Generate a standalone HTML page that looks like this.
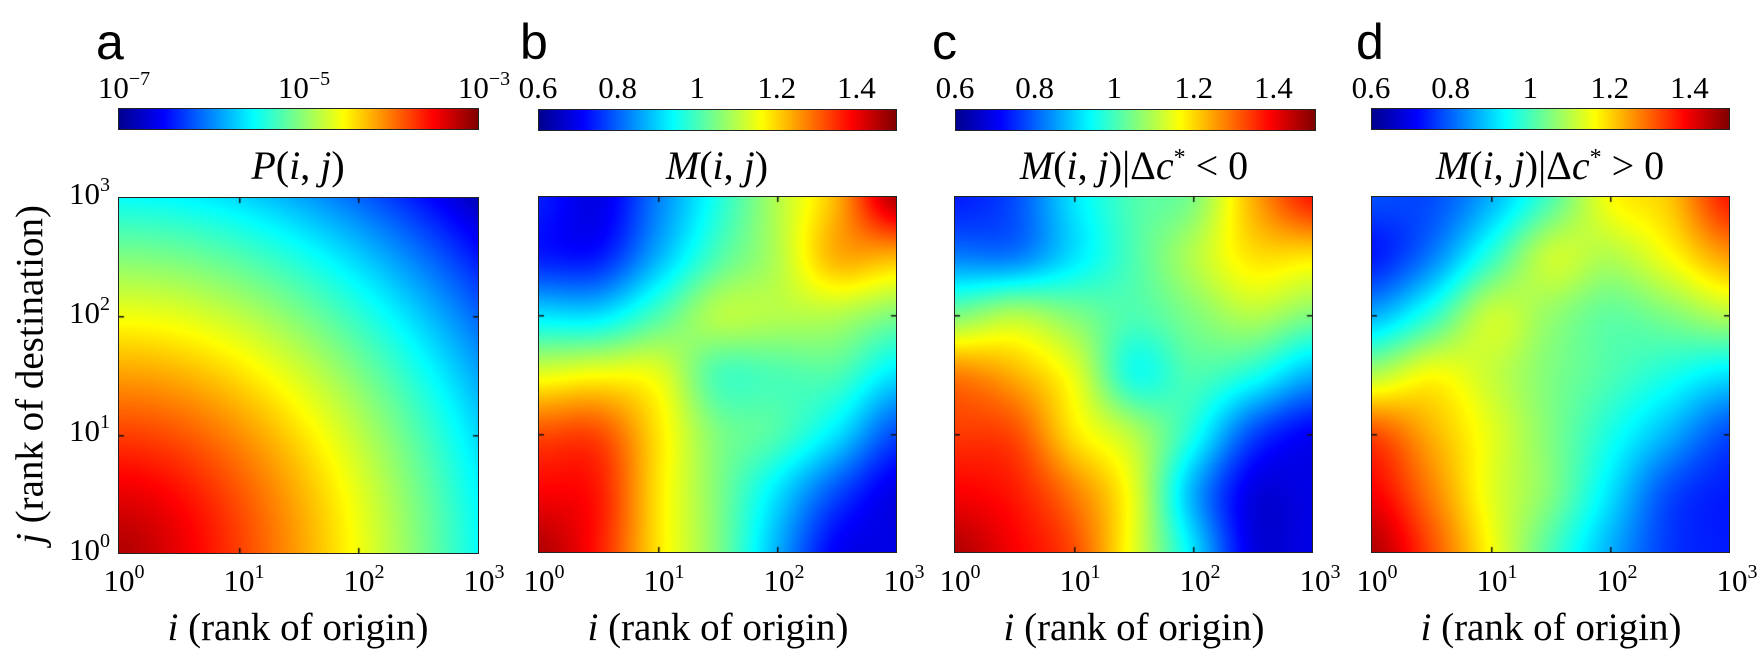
<!DOCTYPE html>
<html><head><meta charset="utf-8"><style>
body{margin:0;width:1758px;height:658px;background:#fff;position:relative;overflow:hidden;font-family:"Liberation Serif",serif;}
.abs{position:absolute;white-space:nowrap;}
.c{transform:translateX(-50%);}
.let{font-family:"Liberation Sans",sans-serif;font-size:50px;line-height:1;}
.cb{position:absolute;height:20px;border:1px solid #222;background:linear-gradient(to right,#00008f,#0000ff 12.5%,#00ffff 37.5%,#ffff00 62.5%,#ff0000 87.5%,#800000);}
.tl{font-size:31px;line-height:1;}
.tt{font-size:40px;line-height:1;}
canvas{position:absolute;border:1px solid #222;}
sup{font-size:20px;vertical-align:0;position:relative;top:-13px;}
.xl{font-size:39px;line-height:1;}
</style></head><body>
<div class="abs let" style="left:96px;top:17px">a</div>
<div class="abs let" style="left:520px;top:17px">b</div>
<div class="abs let" style="left:932px;top:17px">c</div>
<div class="abs let" style="left:1356px;top:17px">d</div>

<div class="cb" style="left:118px;top:108px;width:359px"></div>
<div class="cb" style="left:538px;top:109px;width:357px"></div>
<div class="cb" style="left:955px;top:109px;width:359px"></div>
<div class="cb" style="left:1371px;top:108px;width:357px"></div>

<div class="abs tt c" style="left:298px;top:146px"><i>P</i>(<i>i</i>, <i>j</i>)</div>
<div class="abs tt c" style="left:717px;top:146px"><i>M</i>(<i>i</i>, <i>j</i>)</div>
<div class="abs tt c" style="left:1134px;top:146px"><i>M</i>(<i>i</i>, <i>j</i>)|Δ<i>c</i><sup style="font-size:24px;top:-14px">*</sup> &lt; 0</div>
<div class="abs tt c" style="left:1550px;top:146px"><i>M</i>(<i>i</i>, <i>j</i>)|Δ<i>c</i><sup style="font-size:24px;top:-14px">*</sup> &gt; 0</div>

<canvas id="c0" width="359" height="355" style="left:118px;top:197px"></canvas>
<canvas id="c1" width="357" height="355" style="left:538px;top:196px"></canvas>
<canvas id="c2" width="357" height="355" style="left:954px;top:196px"></canvas>
<canvas id="c3" width="357" height="355" style="left:1371px;top:196px"></canvas>

<div class="abs tl" style="right:1648px;top:178px">10<sup>3</sup></div>
<div class="abs tl" style="right:1648px;top:297px">10<sup>2</sup></div>
<div class="abs tl" style="right:1648px;top:415px">10<sup>1</sup></div>
<div class="abs tl" style="right:1648px;top:534px">10<sup>0</sup></div>
<div class="abs xl" style="left:-180px;top:355px;width:420px;text-align:center;transform:rotate(-90deg)"><i>j</i> (rank of destination)</div>

<div id="xt"></div>
<script>
var lefts=[118,538,954,1371],xt='';
lefts.forEach(function(L,p){
 for(var k=0;k<4;k++){xt+='<div class="abs tl c" style="left:'+(L+k*120+6)+'px;top:565px">10<sup>'+k+'</sup></div>';}
 xt+='<div class="abs xl c" style="left:'+(L+180)+'px;top:608px"><i>i</i> (rank of origin)</div>';
 if(p==0){var ls=['−7','−5','−3'];for(var k=0;k<3;k++)xt+='<div class="abs tl c" style="left:'+(L+k*180+6)+'px;top:72px">10<sup>'+ls[k]+'</sup></div>';}
 else{var v=['0.6','0.8','1','1.2','1.4'];var cl=(p==2?955:L);for(var k=0;k<5;k++)xt+='<div class="abs tl c" style="left:'+(cl+k*79.6)+'px;top:72px">'+v[k]+'</div>';}
});
document.getElementById('xt').innerHTML=xt;
function jet(t){t=Math.max(0,Math.min(1,t));function c(x){return Math.round(255*Math.max(0,Math.min(1,1.5-Math.abs(x))));}
 return [c(4*t-3),c(4*t-2),c(4*t-1)];}
var G=[null,
[[.15,.1,.25,.4,.55,.7,.95],[.15,.15,.3,.45,.55,.7,.7],[.35,.35,.45,.55,.55,.55,.5],[.6,.62,.6,.45,.45,.45,.35],[.8,.8,.65,.5,.45,.35,.2],[.88,.85,.65,.5,.35,.2,.1],[.95,.85,.65,.5,.3,.12,.1]],
[[.15,.2,.35,.45,.5,.7,.85],[.25,.25,.35,.45,.55,.65,.65],[.5,.55,.5,.45,.5,.55,.5],[.75,.7,.6,.4,.45,.4,.3],[.82,.8,.65,.55,.4,.2,.12],[.88,.85,.75,.6,.3,.1,.1],[.95,.88,.8,.6,.35,.1,.1]],
[[.2,.2,.3,.45,.62,.68,.85],[.15,.25,.42,.57,.55,.62,.72],[.3,.42,.57,.52,.47,.5,.55],[.55,.62,.57,.5,.45,.4,.35],[.8,.7,.6,.5,.4,.3,.2],[.88,.75,.6,.5,.35,.2,.15],[.95,.8,.62,.45,.3,.18,.15]]];
function cr(p0,p1,p2,p3,t){return 0.5*((2*p1)+(-p0+p2)*t+(2*p0-5*p1+4*p2-p3)*t*t+(-p0+3*p1-3*p2+p3)*t*t*t);}
function samp(g,x,y){var n=6,gx=x*n,gy=y*n,ix=Math.min(5,Math.floor(gx)),iy=Math.min(5,Math.floor(gy)),fx=gx-ix,fy=gy-iy;
 function at(r,c){r=Math.max(0,Math.min(6,r));c=Math.max(0,Math.min(6,c));return g[r][c];}
 var rows=[];for(var r=-1;r<3;r++){rows.push(cr(at(iy+r,ix-1),at(iy+r,ix),at(iy+r,ix+1),at(iy+r,ix+2),fx));}
 return cr(rows[0],rows[1],rows[2],rows[3],fy);}
for(var p=0;p<4;p++){var cv=document.getElementById('c'+p),ctx=cv.getContext('2d'),W=cv.width,H=cv.height,im=ctx.createImageData(W,H);
 for(var y=0;y<H;y++)for(var x=0;x<W;x++){var u=x/(W-1),yy=y/(H-1),v=1-yy,t;
  if(p==0){var r=Math.sqrt(u*u+v*v);t=0.95-0.57*Math.pow(r,1.3);}else t=samp(G[p],u,yy);
  var c=jet(t),i=4*(y*W+x);im.data[i]=c[0];im.data[i+1]=c[1];im.data[i+2]=c[2];im.data[i+3]=255;}
 ctx.putImageData(im,0,0);
 ctx.fillStyle='#111';
 for(var k=1;k<3;k++){var X=Math.round(k*W/3);ctx.fillRect(X,H-5,1.5,5);ctx.fillRect(X,0,1.5,5);var Y=Math.round(k*H/3);ctx.fillRect(0,Y,5,1.5);ctx.fillRect(W-5,Y,5,1.5);}
}
</script>
</body></html>
